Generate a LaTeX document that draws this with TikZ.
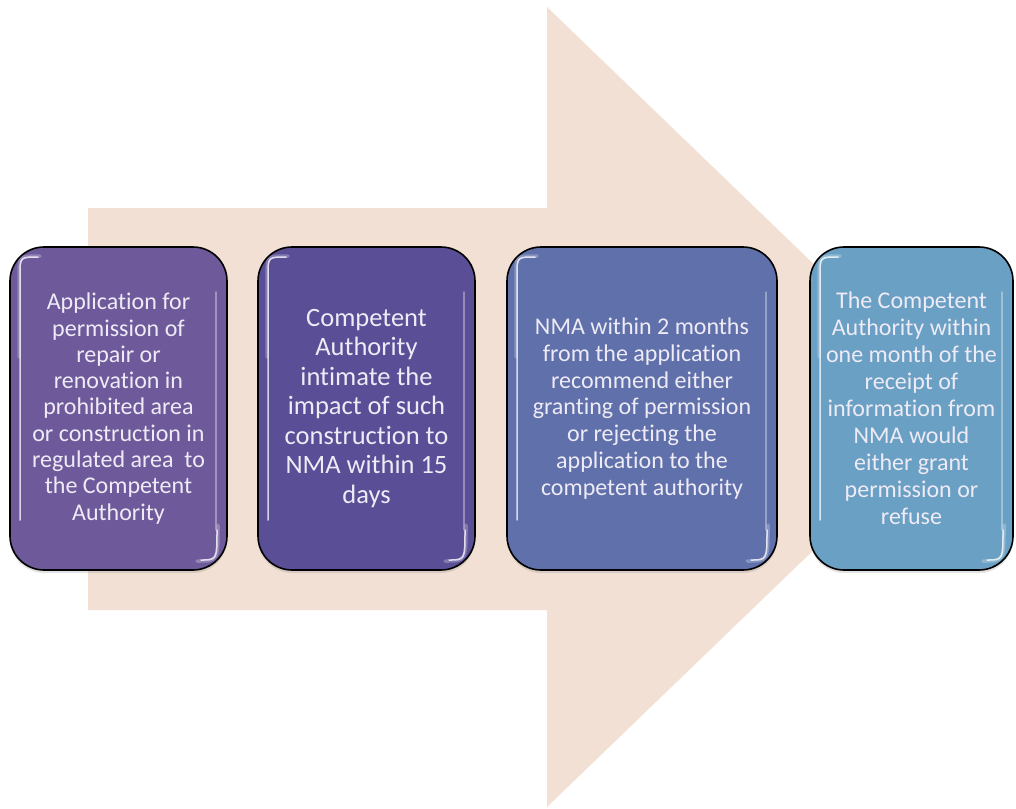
\documentclass[tikz,border=0pt]{standalone}
\usepackage{fontspec}
\setmainfont{Carlito}[Ligatures=NoCommon]
\usetikzlibrary{shadows}
\definecolor{arrowfill}{RGB}{242,224,212}
\definecolor{stepA}{RGB}{110,90,155}
\definecolor{stepB}{RGB}{90,78,150}
\definecolor{stepC}{RGB}{95,112,170}
\definecolor{stepD}{RGB}{106,160,196}
\definecolor{steptext}{RGB}{238,235,246}
\tikzset{
  stepbox/.style={draw=black, line width=1.6pt, rounded corners=34pt,
    minimum height=323pt, inner sep=4pt, outer sep=0pt, align=center,
    text=steptext,
    drop shadow={opacity=0.22, shadow xshift=0pt, shadow yshift=-3pt}},
  glosswide/.style={draw=white, line width=3.5pt, opacity=0.25, line cap=round},
  gloss/.style={draw=white, line width=1.5pt, opacity=0.75, line cap=round},
  glossfaint/.style={draw=white, line width=1.2pt, opacity=0.35, line cap=round}
}
\begin{document}
\begin{tikzpicture}[x=1pt, y=-1pt]
\useasboundingbox (0,0) rectangle (1016,808);

% large background arrow
\fill[arrowfill] (88,208) -- (547,208) -- (547,7) -- (962,407)
  -- (547,807) -- (547,610) -- (88,610) -- cycle;

% process steps
\node[stepbox, fill=stepA, minimum width=217pt,
  font=\fontsize{24}{26.3}\selectfont] (b1) at (118.5,408.5)
  {Application for\\permission of\\repair or\\renovation in\\prohibited area\\or construction in\\regulated area\ \ to\\the Competent\\Authority};
\node[stepbox, fill=stepB, minimum width=217pt,
  font=\fontsize{26.5}{29.5}\selectfont] (b2) at (366.5,408.5)
  {Competent\\Authority\\intimate the\\impact of such\\construction to\\NMA within 15\\days};
\node[stepbox, fill=stepC, minimum width=270pt,
  font=\fontsize{24}{26.7}\selectfont] (b3) at (642,408.5)
  {NMA within 2 months\\from the application\\recommend either\\granting of permission\\or rejecting the\\application to the\\competent authority};
\node[stepbox, fill=stepD, minimum width=203pt,
  font=\fontsize{24}{27}\selectfont] (b4) at (911.5,408.5)
  {The Competent\\Authority within\\one month of the\\receipt of\\information from\\NMA would\\either grant\\permission or\\refuse};

% glossy highlights inside each step
\foreach \n in {b1,b2,b3,b4} {
  \draw[glosswide] ([xshift=30pt,yshift=-9pt]\n.north west)
    .. controls ([xshift=9pt,yshift=-9pt]\n.north west) .. ([xshift=9pt,yshift=-30pt]\n.north west)
    -- ([xshift=9pt,yshift=-110pt]\n.north west);
  \draw[gloss] ([xshift=28pt,yshift=-10pt]\n.north west)
    .. controls ([xshift=10pt,yshift=-10pt]\n.north west) .. ([xshift=10pt,yshift=-28pt]\n.north west)
    -- ([xshift=10pt,yshift=50pt]\n.south west);
  \draw[glossfaint] ([xshift=-11pt,yshift=-45pt]\n.north east)
    -- ([xshift=-11pt,yshift=40pt]\n.south east);
  \draw[glosswide] ([xshift=-9pt,yshift=45pt]\n.south east)
    .. controls ([xshift=-9pt,yshift=9pt]\n.south east) .. ([xshift=-30pt,yshift=9pt]\n.south east);
  \draw[gloss] ([xshift=-10pt,yshift=40pt]\n.south east)
    .. controls ([xshift=-10pt,yshift=10pt]\n.south east) .. ([xshift=-26pt,yshift=10pt]\n.south east);
}
\end{tikzpicture}
\end{document}
